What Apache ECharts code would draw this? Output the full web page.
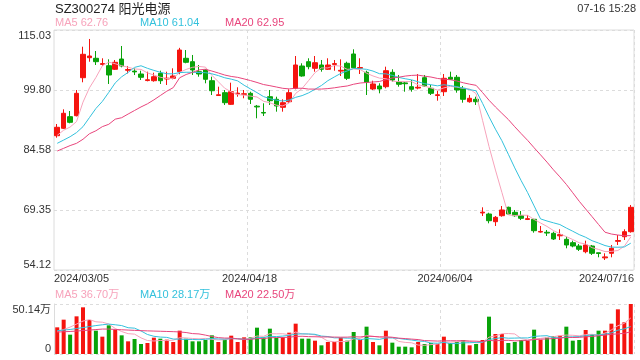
<!DOCTYPE html>
<html><head><meta charset="utf-8">
<script src="https://cdn.jsdelivr.net/npm/echarts@6/dist/echarts.min.js"></script>
<style>html,body{margin:0;padding:0;background:#fff}#c{width:640px;height:360px}</style>
</head><body><div id="c"></div>
<script>
const dates = [
'2024/03/05','2024/03/06','2024/03/07','2024/03/08','2024/03/11','2024/03/12','2024/03/13','2024/03/14','2024/03/15','2024/03/18',
'2024/03/19','2024/03/20','2024/03/21','2024/03/22','2024/03/25','2024/03/26','2024/03/27','2024/03/28','2024/03/29','2024/04/01',
'2024/04/02','2024/04/03','2024/04/08','2024/04/09','2024/04/10','2024/04/11','2024/04/12','2024/04/15','2024/04/16','2024/04/17',
'2024/04/18','2024/04/19','2024/04/22','2024/04/23','2024/04/24','2024/04/25','2024/04/26','2024/04/29','2024/04/30','2024/05/06',
'2024/05/07','2024/05/08','2024/05/09','2024/05/10','2024/05/13','2024/05/14','2024/05/15','2024/05/16','2024/05/17','2024/05/20',
'2024/05/21','2024/05/22','2024/05/23','2024/05/24','2024/05/27','2024/05/28','2024/05/29','2024/05/30','2024/05/31','2024/06/03',
'2024/06/04','2024/06/05','2024/06/06','2024/06/07','2024/06/11','2024/06/12','2024/06/13','2024/06/14','2024/06/17','2024/06/18',
'2024/06/19','2024/06/20','2024/06/21','2024/06/24','2024/06/25','2024/06/26','2024/06/27','2024/06/28','2024/07/01','2024/07/02',
'2024/07/03','2024/07/04','2024/07/05','2024/07/08','2024/07/09','2024/07/10','2024/07/11','2024/07/12','2024/07/15','2024/07/16'];

const opens = [88.2,90.08,93.03,93.28,102.92,108.0,107.85,106.3,105.97,105.06,
107.67,104.8,104.6,103.86,102.2,102.16,104.04,102.6,102.77,104.45,
107.85,106.99,104.45,104.88,102.16,98.4,99.12,96.17,98.8,98.7,
98.96,95.7,94.1,98.1,97.44,95.41,96.83,100.23,105.89,106.99,
105.31,106.15,105.06,106.3,104.6,106.58,108.94,105.3,104.29,100.06,
100.82,100.64,104.29,101.91,101.6,100.64,100.3,102.93,100.23,98.4,
99.37,103.03,103.03,100.23,96.83,97.44,68.6,68.33,66.38,67.9,
70.03,68.76,67.9,66.95,66.99,63.75,63.7,63.43,62.8,61.91,
61.05,60.21,58.76,60.21,58.5,57.2,58.36,61.4,62.57,63.84];
const closes = [90.34,93.89,91.6,98.96,108.86,108.43,106.99,106.5,103.61,106.83,
105.89,105.0,104.4,103.03,102.4,103.18,102.16,102.8,103.36,109.95,
106.83,104.88,103.86,102.52,99.62,98.6,96.58,99.37,99.0,98.85,
97.44,95.5,93.95,97.09,95.74,96.58,99.12,106.15,103.36,105.72,
106.73,105.06,106.15,106.5,104.8,102.77,105.46,105.5,101.76,101.33,
100.06,104.7,102.34,101.25,101.4,99.98,100.5,100.82,98.96,98.6,
102.77,102.52,99.8,97.44,97.7,96.83,68.8,66.63,67.49,69.35,
68.33,67.9,67.24,67.15,64.1,63.9,63.5,61.99,63.1,60.47,
60.21,59.38,60.47,58.36,58.3,57.45,59.63,61.6,63.84,70.03];
const lows = [87.7,89.9,91.35,93.1,101.76,106.98,106.15,105.9,101.33,104.88,
105.56,104.0,103.6,102.34,102.0,101.91,101.33,101.07,102.52,103.8,
106.58,103.61,103.18,101.5,98.53,98.36,96.0,96.0,98.1,97.7,
96.25,92.62,93.2,96.0,94.3,94.3,96.58,99.98,103.18,105.06,
104.45,104.45,104.88,104.7,103.36,102.34,105.31,103.86,98.53,99.8,
98.96,100.23,101.91,100.64,99.37,99.37,99.98,100.64,98.53,97.09,
98.28,102.34,99.12,96.58,96.58,96.0,67.82,65.97,65.29,67.65,
68.08,67.65,66.8,66.8,63.59,63.59,62.75,61.73,61.73,59.63,
59.88,58.94,58.36,57.93,57.34,56.66,57.34,60.47,61.73,63.6];
const highs = [91.17,94.9,94.47,99.8,110.79,112.75,109.7,107.85,107.59,107.42,
110.97,105.9,105.3,104.7,104.45,104.19,104.7,104.45,105.31,110.5,
109.95,108.69,106.15,105.06,103.18,100.64,99.8,101.66,100.49,99.8,
99.37,96.0,96.43,99.8,98.1,97.44,99.98,108.43,106.58,107.85,
108.43,107.42,107.85,107.42,107.59,106.99,110.13,107.85,104.7,102.16,
101.5,105.72,105.06,103.61,101.91,102.34,103.86,103.61,101.07,99.62,
103.86,104.45,103.61,100.82,98.53,98.1,70.03,68.66,67.82,70.36,
70.2,69.35,69.09,68.08,67.1,65.29,64.27,63.84,64.45,62.57,
61.56,60.72,61.56,60.47,58.5,58.36,60.47,62.99,64.45,70.62];
// volume in 万 (10k shares)
const volumes = [26.74,34.43,19.39,37.77,46.80,34.10,23.40,17.38,28.75,24.40,
18.72,12.70,15.04,10.03,11.03,16.38,15.38,14.37,12.03,23.40,
15.38,12.70,12.70,14.04,18.72,12.03,14.37,18.38,12.03,16.71,
16.71,26.41,16.71,25.40,16.04,17.05,21.39,30.42,15.38,15.38,
13.37,8.69,12.03,12.03,16.38,13.37,22.06,14.04,27.41,12.03,
8.69,23.40,11.37,7.35,7.35,6.69,12.03,10.03,11.03,10.03,
17.38,11.03,12.03,14.04,8.69,10.03,14.04,37.44,20.06,20.06,
11.03,12.03,14.04,13.37,24.40,14.37,16.71,18.05,18.38,27.41,
13.37,14.04,24.07,19.72,23.40,23.40,30.42,44.79,31.76,50.14];

// moving-average values at the start of the window (they depend on days before 03/05)
const ma5Head = [88.3,89.6,90.4,91.8];
const ma10Head = [86.27,87.1,87.95,89.0,90.5,92.8,95.1,96.9,99.2];
const ma20Head = [84.32,85.0,85.7,86.27,87.3,88.7,89.45,90.5,91.1,92.4,92.77,93.7,94.6,95.5,96.3,97.3,98.4,99.5,100.4];
const volMa5Head = [22.7,24.5,27.0,30.0];
const volMa10Head = [23.4,24.0,24.6,25.5,26.5,27.5,28.5,29.3,30.0];
const volMa20Head = [22.0,22.3,22.6,23.0,23.5,24.0,24.5,25.0,25.0,24.6,24.3,24.0,23.7,23.4,23.2,23.0,22.8,22.6,22.4];

const yTickLabels = ['54.12','69.35','84.58','99.80','115.03'];
const volTickLabels = ['0','50.14万'];
const xLabelIdx = [0,30,60,89];
const titleText = 'SZ300274 阳光电源';
const timeText = '07-16 15:28';
const priceLegend = ['MA5 62.76','MA10 61.04','MA20 62.95'];
const volLegend = ['MA5 36.70万','MA10 28.17万','MA20 22.50万'];

function movingAvg(vals, n, head) {
  return vals.map((v, i) => {
    if (i < head.length) return head[i];
    let s = 0;
    for (let k = i - n + 1; k <= i; k++) s += vals[k];
    return +(s / n).toFixed(3);
  });
}
const ma5 = movingAvg(closes, 5, ma5Head);
const ma10 = movingAvg(closes, 10, ma10Head);
const ma20 = movingAvg(closes, 20, ma20Head);
const vma5 = movingAvg(volumes, 5, volMa5Head);
const vma10 = movingAvg(volumes, 10, volMa10Head);
const vma20 = movingAvg(volumes, 20, volMa20Head);

const UP = '#f5140f', DOWN = '#09a309';
const C5 = '#f7a3bb', C10 = '#33c1dc', C20 = '#e8457c';
const FONT = '"Liberation Sans", Arial, "Noto Sans CJK SC", sans-serif';
const GRIDC = '#dcdcdc';

const chart = echarts.init(document.getElementById('c'), null, {renderer: 'canvas'});

function legendTexts(labels, y) {
  const xs = [55, 140, 225];
  const cols = [C5, C10, C20];
  return labels.map((t, i) => ({
    type: 'text', x: xs[i], y: y,
    style: {text: t, fill: cols[i], font: '11px ' + FONT, verticalAlign: 'middle', align: 'left'}
  }));
}

const option = {
  animation: false,
  textStyle: {fontFamily: FONT},
  grid: [
    {left: 54, right: 6, top: 30, height: 240, show: true, borderColor: GRIDC, borderWidth: 1},
    {left: 54, right: 6, top: 304, height: 50}
  ],
  xAxis: [
    {
      type: 'category', gridIndex: 0, data: dates, boundaryGap: true,
      axisLine: {show: false}, axisTick: {show: false}, axisLabel: {show: false},
      splitLine: {show: true, interval: (i) => i === 30 || i === 60, lineStyle: {color: GRIDC, type: [3, 3]}}
    },
    {
      type: 'category', gridIndex: 1, data: dates, boundaryGap: true,
      axisLine: {show: false}, axisTick: {show: false}, axisLabel: {show: false},
      splitLine: {show: true, interval: (i) => i === 30 || i === 60, lineStyle: {color: GRIDC, type: [3, 3]}}
    },
    {
      type: 'category', gridIndex: 0, data: dates, boundaryGap: false, position: 'bottom',
      axisLine: {show: false}, axisTick: {show: false}, splitLine: {show: false},
      axisLabel: {
        interval: (i) => xLabelIdx.indexOf(i) >= 0,
        fontSize: 11, color: '#333', margin: 3,
        alignMinLabel: 'left', alignMaxLabel: 'right'
      }
    }
  ],
  yAxis: [
    {
      type: 'value', gridIndex: 0, min: 54.12, max: 115.03, interval: 15.2275,
      axisLine: {show: false}, axisTick: {show: false},
      axisLabel: {
        fontSize: 11, color: '#333', margin: 3,
        formatter: (v, i) => yTickLabels[i],
        verticalAlignMinLabel: 'bottom', verticalAlignMaxLabel: 'top'
      },
      splitLine: {show: true, lineStyle: {color: GRIDC, type: [3, 3]}}
    },
    {
      type: 'value', gridIndex: 1, min: 0, max: 50.14, interval: 50.14,
      axisLine: {show: true, lineStyle: {color: GRIDC}}, axisTick: {show: false},
      axisLabel: {
        fontSize: 11, color: '#333', margin: 3,
        formatter: (v, i) => volTickLabels[i],
        verticalAlignMinLabel: 'bottom', verticalAlignMaxLabel: 'top'
      },
      splitLine: {show: true, lineStyle: {color: GRIDC, type: [3, 3]}}
    }
  ],
  series: [
    {
      type: 'candlestick', xAxisIndex: 0, yAxisIndex: 0, barWidth: 5,
      data: opens.map((o, i) => [o, closes[i], lows[i], highs[i]]),
      itemStyle: {color: UP, color0: DOWN, borderColor: UP, borderColor0: DOWN, borderWidth: 1}
    },
    {type: 'line', xAxisIndex: 0, yAxisIndex: 0, data: ma5, symbol: 'none', lineStyle: {width: 1, color: C5}},
    {type: 'line', xAxisIndex: 0, yAxisIndex: 0, data: ma10, symbol: 'none', lineStyle: {width: 1, color: C10}},
    {type: 'line', xAxisIndex: 0, yAxisIndex: 0, data: ma20, symbol: 'none', lineStyle: {width: 1, color: C20}},
    {
      type: 'bar', xAxisIndex: 1, yAxisIndex: 1, barWidth: 4,
      data: volumes.map((v, i) => ({value: v, itemStyle: {color: closes[i] >= opens[i] ? UP : DOWN}}))
    },
    {type: 'line', xAxisIndex: 1, yAxisIndex: 1, data: vma5, symbol: 'none', lineStyle: {width: 1, color: C5}},
    {type: 'line', xAxisIndex: 1, yAxisIndex: 1, data: vma10, symbol: 'none', lineStyle: {width: 1, color: C10}},
    {type: 'line', xAxisIndex: 1, yAxisIndex: 1, data: vma20, symbol: 'none', lineStyle: {width: 1, color: C20}}
  ],
  graphic: [
    {type: 'text', x: 55, y: 9, style: {text: titleText, fill: '#222', font: '13px ' + FONT, verticalAlign: 'middle', align: 'left'}},
    {type: 'text', x: 636, y: 9, style: {text: timeText, fill: '#333', font: '11px ' + FONT, verticalAlign: 'middle', align: 'right'}}
  ].concat(legendTexts(priceLegend, 23)).concat(legendTexts(volLegend, 295))
};
chart.setOption(option);
</script>
</body></html>
